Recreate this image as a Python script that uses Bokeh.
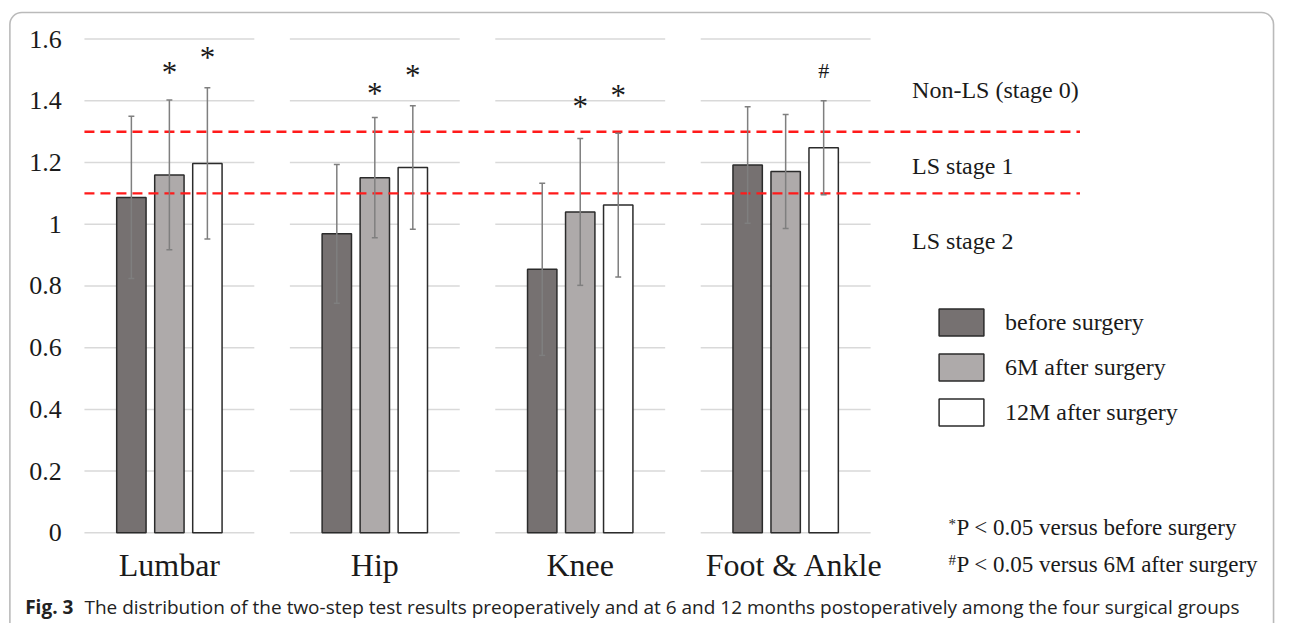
from bokeh.plotting import figure
from bokeh.models import Range1d, ColumnDataSource, Legend, LegendItem, BoxAnnotation
from bokeh.core.properties import value
from bokeh.embed import file_html
from bokeh.resources import INLINE

# ---------------- data ----------------
groups = ["Lumbar", "Hip", "Knee", "Foot & Ankle"]
series = ["before surgery", "6M after surgery", "12M after surgery"]
before = [1.087, 0.969, 0.854, 1.192]
before_sd = [0.263, 0.225, 0.279, 0.189]
m6 = [1.160, 1.151, 1.040, 1.171]
m6_sd = [0.243, 0.195, 0.238, 0.185]
m12 = [1.197, 1.184, 1.062, 1.248]
m12_sd = [0.245, 0.200, 0.233, 0.152]

y_ticks = [0, 0.2, 0.4, 0.6, 0.8, 1.0, 1.2, 1.4, 1.6]
y_tick_labels = ["0", "0.2", "0.4", "0.6", "0.8", "1", "1.2", "1.4", "1.6"]

thresholds = [1.3, 1.1]
stage_labels = ["Non-LS (stage 0)", "LS stage 1", "LS stage 2"]
stage_label_y = [1.434, 1.188, 0.945]

sig_group = [0, 0, 1, 1, 2, 2, 3]
sig_series = [1, 2, 1, 2, 1, 2, 2]
sig_symbol = ["*", "*", "*", "*", "*", "*", "#"]
sig_y = [1.509, 1.559, 1.443, 1.499, 1.399, 1.435, 1.498]

foot_marks = ["*", "#"]
foot_texts = ["P < 0.05 versus before surgery", "P < 0.05 versus 6M after surgery"]
caption_bold = "Fig. 3"
caption_text = ("The distribution of the two-step test results preoperatively and at 6 and "
                "12 months postoperatively among the four surgical groups")

# ---------------- layout / styling ----------------
IW, IH = 1292, 639             # design space (reference pixels)
W, H = 1276, 623               # canvas size
SX, SY = W / IW, H / IH
GX0, GSTEP = 171.0, 208.0      # design-pixel centre of first group, pixels per group
Y0, YS = 546.0, 316.5          # design-pixel of value 0, pixels per unit


def px_x(ix):
    return (ix - GX0) / GSTEP


def px_y(iy):
    return (Y0 - iy) / YS


SERIF = value("Liberation Serif")
TXT = "#1a1a1a"
fills = ["#767171", "#aeaaaa", "#ffffff"]
offsets = [-0.185, 0.0, 0.185]
bar_w = 0.143
half_grid = 0.4135
cap = 3.0 / GSTEP
label_nudge_px = [0, 0, 0, 9]

p = figure(width=W, height=H, output_backend="svg", toolbar_location=None,
           x_range=Range1d(px_x(0), px_x(IW)), y_range=Range1d(px_y(IH), px_y(0)),
           x_axis_type=None, y_axis_type=None, min_border=0,
           outline_line_color=None, background_fill_color="white",
           border_fill_color="white")

# rounded outer frame
p.add_layout(BoxAnnotation(left=px_x(9.5), right=px_x(1289), top=px_y(12.3), bottom=px_y(IH + 40),
                           fill_color=None, fill_alpha=0, line_color="#1a1a1a",
                           line_width=1.6, border_radius=12, level="underlay"))

# broken gridlines (one block per group)
gx0, gx1, gy = [], [], []
for gi in range(len(groups)):
    for t in y_ticks:
        gx0.append(gi - half_grid)
        gx1.append(gi + half_grid)
        gy.append(t)
p.segment(x0=gx0, y0=gy, x1=gx1, y1=gy, line_color="#d9d9d9", line_width=1.5)

# y tick labels
p.text(x=[px_x(62)] * len(y_ticks), y=y_ticks, text=y_tick_labels, text_font=SERIF,
       text_font_size="26px", text_align="right", text_baseline="middle", text_color=TXT)

# bars
means = [before, m6, m12]
sds = [before_sd, m6_sd, m12_sd]
renderers = []
for si in range(3):
    xs = [gi + offsets[si] for gi in range(len(groups))]
    src = ColumnDataSource(dict(x=xs, top=means[si]))
    r = p.vbar(x="x", top="top", bottom=0, width=bar_w, source=src,
               fill_color=fills[si], line_color="#2b2b2b", line_width=1.5)
    renderers.append(r)

# red threshold lines
p.segment(x0=[px_x(85)] * 2, x1=[px_x(1093)] * 2, y0=thresholds, y1=thresholds,
          line_color="#ff1a1a", line_width=2.4, line_dash="10 6")

# error bars
for si in range(3):
    xs = [gi + offsets[si] for gi in range(len(groups))]
    lo = [m - s for m, s in zip(means[si], sds[si])]
    hi = [m + s for m, s in zip(means[si], sds[si])]
    p.segment(x0=xs, x1=xs, y0=lo, y1=hi, line_color="#7f7f7f", line_width=1.5)
    p.segment(x0=[x - cap for x in xs], x1=[x + cap for x in xs], y0=lo, y1=lo,
              line_color="#7f7f7f", line_width=1.5)
    p.segment(x0=[x - cap for x in xs], x1=[x + cap for x in xs], y0=hi, y1=hi,
              line_color="#7f7f7f", line_width=1.5)

# significance markers
star_x = [sig_group[i] + offsets[sig_series[i]] for i in range(len(sig_y)) if sig_symbol[i] == "*"]
star_y = [sig_y[i] for i in range(len(sig_y)) if sig_symbol[i] == "*"]
hash_x = [sig_group[i] + offsets[sig_series[i]] for i in range(len(sig_y)) if sig_symbol[i] == "#"]
hash_y = [sig_y[i] for i in range(len(sig_y)) if sig_symbol[i] == "#"]
p.text(x=star_x, y=star_y, text=["*"] * len(star_x), text_font=SERIF, text_font_size="31px",
       text_align="center", text_baseline="middle", y_offset=5.5, text_color=TXT)
p.text(x=hash_x, y=hash_y, text=["#"] * len(hash_x), text_font=SERIF, text_font_size="22px",
       text_align="center", text_baseline="middle", text_color=TXT)

# stage labels
p.text(x=[px_x(923)] * 3, y=stage_label_y, text=stage_labels, text_font=SERIF,
       text_font_size="24px", text_align="left", text_baseline="middle", text_color=TXT)

# category labels
p.text(x=[gi + label_nudge_px[gi] / GSTEP for gi in range(len(groups))],
       y=[px_y(579)] * len(groups), text=groups, text_font=SERIF,
       text_font_size="32px", text_align="center", text_baseline="middle", text_color=TXT)

# footnotes
p.text(x=[px_x(960)] * 2, y=[px_y(541), px_y(578)], text=foot_marks, text_font=SERIF,
       text_font_size="15px", text_align="left", text_baseline="middle", y_offset=-4,
       text_color=TXT)
p.text(x=[px_x(968)] * 2, y=[px_y(541), px_y(578)], text=foot_texts, text_font=SERIF,
       text_font_size="23px", text_align="left", text_baseline="middle", text_color=TXT)

# caption
p.text(x=[px_x(25)], y=[px_y(622)], text=[caption_bold], text_font=value("Open Sans"),
       text_font_size="19px", text_font_style="bold", text_align="left",
       text_baseline="middle", text_color="#222222")
p.text(x=[px_x(85)], y=[px_y(622)], text=[caption_text], text_font=value("Open Sans"),
       text_font_size="19px", text_align="left", text_baseline="middle", text_color="#222222")

# legend (bottom-left corner given in canvas pixels; vbar swatches are inset 10% per side)
legend = Legend(items=[LegendItem(label=series[i], renderers=[renderers[i]]) for i in range(3)],
                location=(933, 194), orientation="vertical",
                glyph_width=56, glyph_height=34, label_standoff=16, spacing=11, padding=0,
                margin=0, border_line_color=None, background_fill_alpha=0,
                label_text_font="Liberation Serif", label_text_font_size="24px",
                label_text_color=TXT, label_height=34)
p.add_layout(legend)

open("out.html", "w").write(file_html(p, INLINE))
